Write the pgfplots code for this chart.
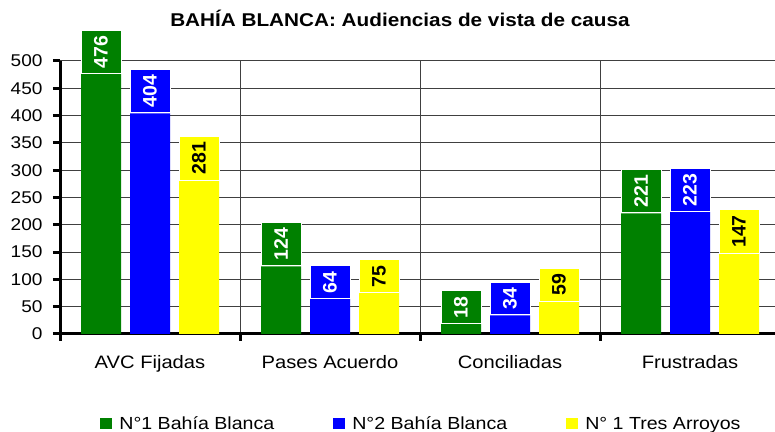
\documentclass[border=0pt]{standalone}
\usepackage{pgfplots}
\pgfplotsset{compat=1.18}
\usepackage{fontspec}
\setmainfont{Liberation Sans}[FakeStretch=1.12]
\newfontfamily\lblfont{Liberation Sans}
\definecolor{cgreen}{HTML}{008000}
\definecolor{cblue}{HTML}{0000FF}
\definecolor{cyellow}{HTML}{FFFF00}
\pgfplotsset{sqlegend/.style={legend image code/.code={\fill[##1,draw=none] (0pt,-5pt) rectangle (12pt,6pt);}}}
\begin{document}
\begin{tikzpicture}
\begin{axis}[
 name=ax,
 scale only axis,
 width=715pt, height=273pt,
 xmin=-0.5, xmax=3.4722,
 ymin=0, ymax=500,
 clip=false,
 ybar=9pt,
 bar width=40pt,
 axis x line*=bottom, axis y line*=left,
 axis line style={line width=3pt, -},
 xtick={-0.5,0.5,1.5,2.5},
 xticklabels={},
 xmajorgrids=true,
 extra x ticks={0,1,2,3},
 extra x tick labels={AVC Fijadas, Pases Acuerdo, Conciliadas, Frustradas},
 extra x tick style={xmajorgrids=false, major tick length=0pt,
   xticklabel style={font=\fontsize{18}{20}\selectfont, yshift=-18pt}},
 ytick={0,50,...,500},
 ymajorgrids=true,
 major grid style={line width=1pt, black!75},
 tick align=outside,
 major tick length=7pt,
 tick style={line width=3pt, black},
 /pgf/number format/assume math mode=true,
 yticklabel style={font=\fontsize{17}{20}\selectfont, xshift=-7pt},
 title={BAHÍA BLANCA: Audiencias de vista de causa},
 title style={at={(0.4755,1.133)}, anchor=center, font=\bfseries\fontsize{18.5}{20}\selectfont},
 nodes near coords,
 every node near coord/.append style={rotate=90, anchor=west, font=\lblfont\bfseries\fontsize{19.5}{20}\selectfont, inner xsep=5.5pt, inner ysep=0pt, minimum height=40pt, draw=white, line width=1pt},
 legend columns=3,
 legend cell align=left,
 legend style={at={(0.052,-0.33)}, anchor=west, draw=none, fill=none, font=\fontsize{17.5}{20}\selectfont,
   /tikz/every odd column/.append style={column sep=5pt},
   /tikz/every even column/.append style={column sep=57pt}},
]
\addplot[fill=cgreen, draw=none, sqlegend, every node near coord/.append style={fill=cgreen, text=white}]
 coordinates {(0,476) (1,124) (2,18) (3,221)};
\addplot[fill=cblue, draw=none, sqlegend, every node near coord/.append style={fill=cblue, text=white}]
 coordinates {(0,404) (1,64) (2,34) (3,223)};
\addplot[fill=cyellow, draw=none, sqlegend, every node near coord/.append style={fill=cyellow, text=black}]
 coordinates {(0,281) (1,75) (2,59) (3,147)};
\legend{N°1 Bahía Blanca, N°2 Bahía Blanca, N° 1 Tres Arroyos}
\end{axis}
\pgfresetboundingbox
\path ([xshift=-60pt,yshift=-98pt]ax.south west) rectangle ([yshift=61pt]ax.north east);
\end{tikzpicture}
\end{document}
